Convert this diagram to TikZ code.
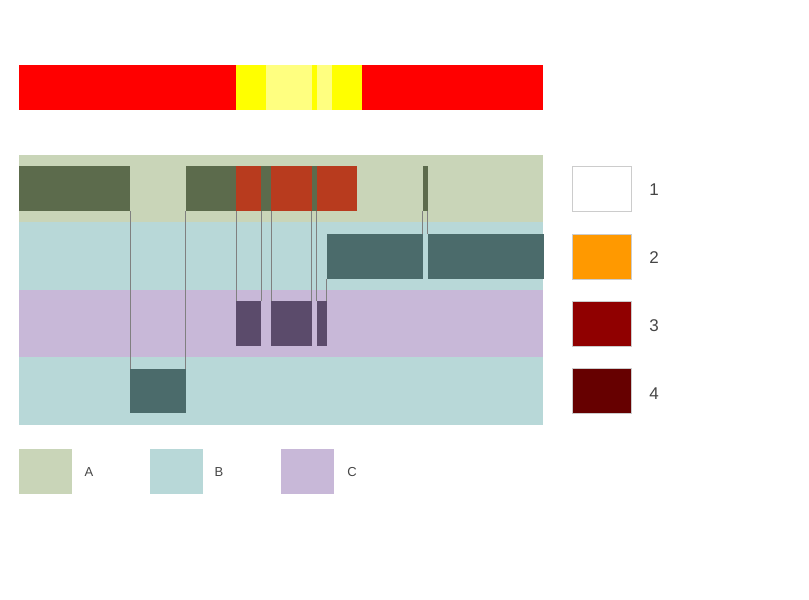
\documentclass[tikz,border=0pt]{standalone}
\usepackage{fontspec}
\setmainfont{Liberation Sans}
\begin{document}
\begin{tikzpicture}[x=1pt,y=-1pt,
  bx/.style={rectangle,draw=none,inner sep=0pt,outer sep=0pt,anchor=north west},
  seg/.style={bx,minimum height=45pt},
  band/.style={bx,minimum width=524pt},
  conn/.style={draw=black!50,line width=0.9pt},
  legbox/.style={bx,draw=black!20,line width=0.8pt,minimum width=59pt,minimum height=45pt},
  legtxt/.style={text=black!73,font=\fontsize{17}{17}\selectfont},
  leg2box/.style={bx,minimum width=53pt,minimum height=45pt},
  leg2txt/.style={text=black!73,font=\fontsize{13}{13}\selectfont}]
\definecolor{cA}{HTML}{C9D5B8}
\definecolor{cB}{HTML}{B8D8D8}
\definecolor{cC}{HTML}{C8B8D8}
\definecolor{dG}{HTML}{5C6B4C}
\definecolor{dT}{HTML}{4B6B6B}
\definecolor{dP}{HTML}{5B4B6B}
\definecolor{rE}{HTML}{B83B1E}
\definecolor{yY}{RGB}{255,255,0}
\definecolor{rR}{RGB}{255,0,0}
\definecolor{lY}{HTML}{FFFF80}
\definecolor{oR}{HTML}{FF9900}
\definecolor{d3}{HTML}{900000}
\definecolor{d4}{HTML}{660000}
\useasboundingbox (0,0) rectangle (809,600);
% top bar
\node[seg,fill=rR,minimum width=217pt] (r1) at (19,65) {};
\node[seg,fill=yY,minimum width=30pt] (y1) at (236,65) {};
\node[seg,fill=lY,minimum width=46pt] (ly1) at (266,65) {};
\node[seg,fill=yY,minimum width=5pt] (y2) at (312,65) {};
\node[seg,fill=lY,minimum width=15pt] (ly2) at (317,65) {};
\node[seg,fill=yY,minimum width=30pt] (y3) at (332,65) {};
\node[seg,fill=rR,minimum width=181pt] (r2) at (362,65) {};
% bands
\node[band,fill=cA,minimum height=67pt] (bA) at (19,155) {};
\node[band,fill=cB,minimum height=68pt] (bB1) at (19,222) {};
\node[band,fill=cC,minimum height=67pt] (bC) at (19,290) {};
\node[band,fill=cB,minimum height=68pt] (bB2) at (19,357) {};
% dark green
\node[seg,fill=dG,minimum width=111pt] (g1) at (19,166) {};
\node[seg,fill=dG,minimum width=131pt] (g2) at (186,166) {};
\node[seg,fill=dG,minimum width=5pt] (g3) at (423,166) {};
% red
\node[seg,fill=rE,minimum width=25pt] (e1) at (236,166) {};
\node[seg,fill=rE,minimum width=41pt] (e2) at (271,166) {};
\node[seg,fill=rE,minimum width=40pt] (e3) at (317,166) {};
% teal dark
\node[bx,fill=dT,minimum width=56pt,minimum height=44pt] (t1) at (130,369) {};
\node[seg,fill=dT,minimum width=96pt] (t2) at (327,234) {};
\node[seg,fill=dT,minimum width=116pt] (t3) at (428,234) {};
% purple
\node[seg,fill=dP,minimum width=25pt] (p1) at (236,301) {};
\node[seg,fill=dP,minimum width=41pt] (p2) at (271,301) {};
\node[seg,fill=dP,minimum width=10pt] (p3) at (317,301) {};
% connectors
\draw[conn] ([xshift=0.5pt]g1.south east) -- ([xshift=0.5pt]t1.north west);
\draw[conn] ([xshift=-0.5pt]g2.south west) -- ([xshift=-0.5pt]t1.north east);
\draw[conn] ([xshift=0.5pt]e1.south west) -- ([xshift=0.5pt]p1.north west);
\draw[conn] ([xshift=0.5pt]e1.south east) -- ([xshift=0.5pt]p1.north east);
\draw[conn] ([xshift=0.5pt]e2.south west) -- ([xshift=0.5pt]p2.north west);
\draw[conn] ([xshift=-0.5pt]e2.south east) -- ([xshift=-0.5pt]p2.north east);
\draw[conn] ([xshift=-0.5pt]e3.south west) -- ([xshift=-0.5pt]p3.north west);
\draw[conn] ([xshift=-0.5pt]t2.south west) -- ([xshift=-0.5pt]p3.north east);
\draw[conn] ([xshift=-0.5pt]g3.south west) -- ([xshift=-0.5pt]t2.north east);
\draw[conn] ([xshift=-0.5pt]g3.south east) -- ([xshift=-0.5pt]t3.north west);
% right legend
\node[legbox,fill=white] (k1) at (572,166) {};
\node[legbox,fill=oR] (k2) at (572,234) {};
\node[legbox,fill=d3] (k3) at (572,301) {};
\node[legbox,fill=d4] (k4) at (572,368) {};
\node[legtxt] (l1) at (654,190) {1};
\node[legtxt] (l2) at (654,258) {2};
\node[legtxt] (l3) at (654,326) {3};
\node[legtxt] (l4) at (654,394) {4};
% bottom legend
\node[leg2box,fill=cA] (kA) at (19,449) {};
\node[leg2box,fill=cB] (kB) at (150,449) {};
\node[leg2box,fill=cC] (kC) at (281,449) {};
\node[leg2txt] (lA) at (89,472) {A};
\node[leg2txt] (lB) at (219,472) {B};
\node[leg2txt] (lC) at (352,472) {C};
\end{tikzpicture}
\end{document}
